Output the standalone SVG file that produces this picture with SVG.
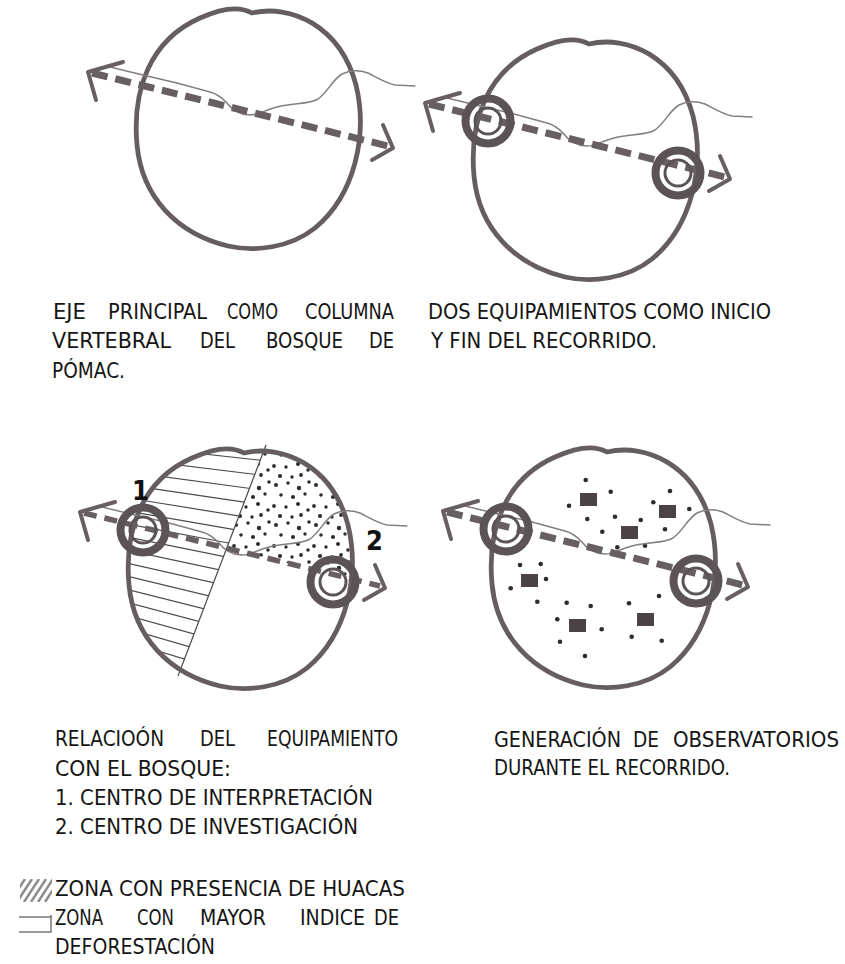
<svg xmlns="http://www.w3.org/2000/svg" width="845" height="964" viewBox="0 0 845 964">
<defs>
<style>
.bound{fill:none;stroke:#655d5f;stroke-width:4.8;stroke-linejoin:round}
.axis{fill:none;stroke:#685f61;stroke-width:7;stroke-dasharray:16 8}
.axis-thin{fill:none;stroke:#685f61;stroke-width:5.5;stroke-dasharray:13 8}
.head{fill:none;stroke:#685f61;stroke-width:4;stroke-linecap:round;stroke-linejoin:round}
.river{fill:none;stroke:#847e7f;stroke-width:1.5;stroke-linejoin:round;stroke-linecap:round}
.ring-o{fill:none;stroke:#5b5355;stroke-width:8}
.ring-i{fill:none;stroke:#5b5355;stroke-width:3}
.hatch{stroke:#4a4a4a;stroke-width:1.2}
.dot{fill:#2f2a2b}
.obs{fill:#4a4244}
.t{font-family:"DejaVu Sans Condensed","Liberation Sans Narrow","Arial Narrow",sans-serif;font-size:20.5px;fill:#151515}
.num{font-family:"DejaVu Sans Condensed","Liberation Sans Narrow",sans-serif;font-size:27px;font-weight:bold;fill:#111}
</style>
<path id="outlineP" d="M 252 13 C 290 4, 340 25, 356 85 C 368 135, 355 195, 315 228 C 290 248, 255 252, 228 246 C 178 234, 142 198, 137 145 C 132 90, 150 40, 200 18 C 222 8, 240 6, 252 13 Z"/>
<path id="riverP" d="M 110 67 L 143 75 L 177 83 L 210 92 C 218 94, 222 98, 226 102 C 232 110, 240 115, 250 115 C 258 115, 265 110, 277 107 C 295 103, 310 104, 318 99 C 328 92, 332 80, 342 74 C 350 70, 360 70, 368 73 C 376 77, 385 83, 395 85 L 415 86"/>
<g id="headsG">
<polyline class="head" points="123,62 88,72 96,100"/>
<polyline class="head" points="383,125 393,148 372,160"/>
</g>
<g id="targetsG">
<circle class="ring-o" cx="151" cy="90" r="22.5"/>
<circle class="ring-i" cx="151" cy="90" r="13"/>
<circle class="ring-o" cx="341" cy="142" r="22.5"/>
<circle class="ring-i" cx="341" cy="142" r="13"/>
</g>
<clipPath id="clipOutline"><use href="#outlineP"/></clipPath>
<clipPath id="clipLeft"><polygon points="100,0 276,0 177,260 100,260"/></clipPath>
<clipPath id="clipLegend"><rect x="20" y="879" width="32" height="23"/></clipPath>
<pattern id="dotsPat" width="40" height="40" patternUnits="userSpaceOnUse">
<circle class="dot" cx="4" cy="5" r="2"/><circle class="dot" cx="16" cy="3" r="1.7"/>
<circle class="dot" cx="27" cy="8" r="2.2"/><circle class="dot" cx="37" cy="2" r="1.8"/>
<circle class="dot" cx="9" cy="15" r="1.8"/><circle class="dot" cx="21" cy="17" r="2.1"/>
<circle class="dot" cx="33" cy="14" r="1.7"/><circle class="dot" cx="2" cy="26" r="1.9"/>
<circle class="dot" cx="14" cy="27" r="1.7"/><circle class="dot" cx="26" cy="24" r="2"/>
<circle class="dot" cx="36" cy="30" r="1.8"/><circle class="dot" cx="8" cy="36" r="2.1"/>
<circle class="dot" cx="20" cy="37" r="1.7"/><circle class="dot" cx="29" cy="35" r="1.9"/>
</pattern>
</defs>

<rect width="845" height="964" fill="#ffffff"/>

<!-- Panel 1: main axis -->
<g id="panel-1">
<use href="#outlineP" class="bound"/>
<use href="#riverP" class="river"/>
<line class="axis" x1="92" y1="73" x2="388" y2="146"/>
<use href="#headsG"/>
</g>

<!-- Panel 2: two equipments -->
<g id="panel-2" transform="translate(337,31)">
<use href="#outlineP" class="bound"/>
<use href="#riverP" class="river"/>
<line class="axis" x1="92" y1="73" x2="388" y2="146"/>
<use href="#headsG"/>
<use href="#targetsG"/>
</g>

<!-- Panel 3: relation with the forest -->
<g id="panel-3" transform="translate(-8,440)">
<g clip-path="url(#clipOutline)">
<g clip-path="url(#clipLeft)">
<line class="hatch" x1="130" y1="5" x2="290" y2="22.6"/>
<line class="hatch" x1="130" y1="18" x2="290" y2="37.7"/>
<line class="hatch" x1="130" y1="31" x2="290" y2="52.8"/>
<line class="hatch" x1="130" y1="44" x2="290" y2="67.8"/>
<line class="hatch" x1="130" y1="57" x2="290" y2="82.9"/>
<line class="hatch" x1="130" y1="70" x2="290" y2="98"/>
<line class="hatch" x1="130" y1="83" x2="290" y2="113.1"/>
<line class="hatch" x1="130" y1="96" x2="290" y2="128.2"/>
<line class="hatch" x1="130" y1="109" x2="290" y2="143.2"/>
<line class="hatch" x1="130" y1="122" x2="290" y2="158.3"/>
<line class="hatch" x1="130" y1="135" x2="290" y2="173.4"/>
<line class="hatch" x1="130" y1="148" x2="290" y2="188.5"/>
<line class="hatch" x1="130" y1="161" x2="290" y2="203.6"/>
<line class="hatch" x1="130" y1="174" x2="290" y2="218.6"/>
<line class="hatch" x1="130" y1="187" x2="290" y2="233.7"/>
<line class="hatch" x1="130" y1="200" x2="290" y2="248.8"/>
<line class="hatch" x1="130" y1="213" x2="290" y2="263.9"/>
<line class="hatch" x1="130" y1="226" x2="290" y2="279"/>
</g>
<polygon points="276,0 235,108 420,154 420,0" fill="url(#dotsPat)"/>
</g>
<line class="hatch" x1="274" y1="5" x2="186" y2="236"/>
<use href="#outlineP" class="bound"/>
<use href="#riverP" class="river"/>
<line class="axis-thin" x1="92" y1="73" x2="388" y2="146"/>
<use href="#headsG"/>
<use href="#targetsG"/>
</g>
<g id="label-1"><text class="num" x="132" y="500">1</text></g>
<g id="label-2"><text class="num" x="366" y="550">2</text></g>

<!-- Panel 4: observatories -->
<g id="panel-4">
<g transform="translate(355,439)">
<use href="#outlineP" class="bound"/>
</g>
<g id="observatories">
<rect class="obs" x="580" y="493" width="17" height="13"/>
<rect class="obs" x="659" y="505" width="17" height="13"/>
<rect class="obs" x="621" y="526" width="17" height="13"/>
<rect class="obs" x="521" y="574" width="17" height="13"/>
<rect class="obs" x="569" y="619" width="17" height="13"/>
<rect class="obs" x="637" y="613" width="17" height="13"/>
<circle class="dot" cx="585.7" cy="480" r="2.3"/>
<circle class="dot" cx="610.7" cy="491.7" r="2.3"/>
<circle class="dot" cx="670" cy="491" r="2.3"/>
<circle class="dot" cx="569" cy="505.7" r="2.3"/>
<circle class="dot" cx="653.3" cy="502.3" r="2.3"/>
<circle class="dot" cx="689.3" cy="509" r="2.3"/>
<circle class="dot" cx="587.3" cy="519" r="2.3"/>
<circle class="dot" cx="615" cy="516.7" r="2.3"/>
<circle class="dot" cx="640.7" cy="520" r="2.3"/>
<circle class="dot" cx="602.3" cy="531.7" r="2.3"/>
<circle class="dot" cx="665" cy="529.3" r="2.3"/>
<circle class="dot" cx="617.3" cy="547.3" r="2.3"/>
<circle class="dot" cx="645" cy="545.7" r="2.3"/>
<circle class="dot" cx="520" cy="565" r="2.3"/>
<circle class="dot" cx="540.7" cy="564" r="2.3"/>
<circle class="dot" cx="546" cy="579" r="2.3"/>
<circle class="dot" cx="510.7" cy="588.3" r="2.3"/>
<circle class="dot" cx="537.3" cy="601.7" r="2.3"/>
<circle class="dot" cx="566.7" cy="602.7" r="2.3"/>
<circle class="dot" cx="590.7" cy="606" r="2.3"/>
<circle class="dot" cx="629" cy="603.3" r="2.3"/>
<circle class="dot" cx="659" cy="596" r="2.3"/>
<circle class="dot" cx="557.3" cy="619.3" r="2.3"/>
<circle class="dot" cx="601.7" cy="629.3" r="2.3"/>
<circle class="dot" cx="631.7" cy="636.7" r="2.3"/>
<circle class="dot" cx="661.7" cy="640.7" r="2.3"/>
<circle class="dot" cx="560" cy="641.7" r="2.3"/>
<circle class="dot" cx="585" cy="656" r="2.3"/>
</g>
<g transform="translate(355,439)">
<use href="#riverP" class="river"/>
<line class="axis" x1="92" y1="73" x2="388" y2="146"/>
<use href="#headsG"/>
<use href="#targetsG"/>
</g>
</g>

<!-- Captions -->
<g id="caption-1">
<text class="t" x="53" y="319" textLength="33" lengthAdjust="spacingAndGlyphs">EJE</text>
<text class="t" x="108" y="319" textLength="99" lengthAdjust="spacingAndGlyphs">PRINCIPAL</text>
<text class="t" x="227" y="319" textLength="51" lengthAdjust="spacingAndGlyphs">COMO</text>
<text class="t" x="305" y="319" textLength="89" lengthAdjust="spacingAndGlyphs">COLUMNA</text>
<text class="t" x="52" y="348" textLength="119" lengthAdjust="spacingAndGlyphs">VERTEBRAL</text>
<text class="t" x="200" y="348" textLength="35" lengthAdjust="spacingAndGlyphs">DEL</text>
<text class="t" x="266" y="348" textLength="77" lengthAdjust="spacingAndGlyphs">BOSQUE</text>
<text class="t" x="369" y="348" textLength="25" lengthAdjust="spacingAndGlyphs">DE</text>
<text class="t" x="52" y="378" textLength="73" lengthAdjust="spacingAndGlyphs">PÓMAC.</text>
</g>
<g id="caption-2">
<text class="t" x="428" y="319" textLength="343" lengthAdjust="spacingAndGlyphs">DOS EQUIPAMIENTOS COMO INICIO</text>
<text class="t" x="431" y="348" textLength="226" lengthAdjust="spacingAndGlyphs">Y FIN DEL RECORRIDO.</text>
</g>
<g id="caption-3">
<text class="t" x="55" y="746" textLength="109" lengthAdjust="spacingAndGlyphs">RELACIOÓN</text>
<text class="t" x="200" y="746" textLength="35" lengthAdjust="spacingAndGlyphs">DEL</text>
<text class="t" x="267" y="746" textLength="131" lengthAdjust="spacingAndGlyphs">EQUIPAMIENTO</text>
<text class="t" x="55" y="776" textLength="176" lengthAdjust="spacingAndGlyphs">CON EL BOSQUE:</text>
<text class="t" x="55" y="805" textLength="318" lengthAdjust="spacingAndGlyphs">1. CENTRO DE INTERPRETACIÓN</text>
<text class="t" x="55" y="834" textLength="303" lengthAdjust="spacingAndGlyphs">2. CENTRO DE INVESTIGACIÓN</text>
</g>
<g id="caption-4">
<text class="t" x="494" y="747" textLength="127" lengthAdjust="spacingAndGlyphs">GENERACIÓN</text>
<text class="t" x="633" y="747" textLength="26" lengthAdjust="spacingAndGlyphs">DE</text>
<text class="t" x="673" y="747" textLength="166" lengthAdjust="spacingAndGlyphs">OBSERVATORIOS</text>
<text class="t" x="494" y="775" textLength="236" lengthAdjust="spacingAndGlyphs">DURANTE EL RECORRIDO.</text>
</g>
<g id="legend">
<g clip-path="url(#clipLegend)" stroke="#8d8d8d" stroke-width="2.5">
<line x1="10" y1="902" x2="25" y2="879"/>
<line x1="17" y1="902" x2="32" y2="879"/>
<line x1="24" y1="902" x2="39" y2="879"/>
<line x1="31" y1="902" x2="46" y2="879"/>
<line x1="38" y1="902" x2="53" y2="879"/>
<line x1="45" y1="902" x2="60" y2="879"/>
</g>
<polyline points="19,917 51,917 51,932 19,932" fill="none" stroke="#7a7a7a" stroke-width="1.5"/>
<line x1="51" y1="915" x2="51" y2="918" stroke="#7a7a7a" stroke-width="1.5"/>
<text class="t" x="55" y="896" textLength="350" lengthAdjust="spacingAndGlyphs">ZONA CON PRESENCIA DE HUACAS</text>
<text class="t" x="55" y="925" textLength="48" lengthAdjust="spacingAndGlyphs">ZONA</text>
<text class="t" x="137" y="925" textLength="37" lengthAdjust="spacingAndGlyphs">CON</text>
<text class="t" x="200" y="925" textLength="66" lengthAdjust="spacingAndGlyphs">MAYOR</text>
<text class="t" x="300" y="925" textLength="65" lengthAdjust="spacingAndGlyphs">INDICE</text>
<text class="t" x="374" y="925" textLength="25" lengthAdjust="spacingAndGlyphs">DE</text>
<text class="t" x="55" y="954" textLength="160" lengthAdjust="spacingAndGlyphs">DEFORESTACIÓN</text>
</g>
</svg>
